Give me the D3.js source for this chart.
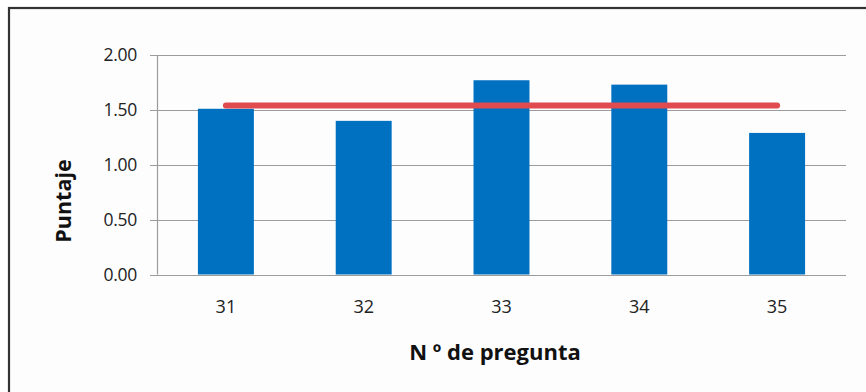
<!DOCTYPE html>
<html>
<head>
<meta charset="utf-8">
<script src="https://cdn.jsdelivr.net/npm/d3@7"></script>
<style>
  html, body { margin: 0; padding: 0; background: #ffffff; }
  svg { display: block; }
</style>
</head>
<body>
<svg id="chart" width="866" height="392"></svg>
<script>
// Question numbers and their scores
const questions = ["31", "32", "33", "34", "35"];
const scores = [1.51, 1.40, 1.77, 1.73, 1.29];
// Average score drawn as a horizontal reference line
const average = [1.54, 1.54, 1.54, 1.54, 1.54];
const yTicks = [0, 0.5, 1.0, 1.5, 2.0];

const svg = d3.select("#chart");
const margin = { left: 157 };

// Outer frame (only top and left edges fall inside the view)
svg.append("rect")
  .attr("x", 9).attr("y", 8)
  .attr("width", 900).attr("height", 420)
  .attr("fill", "#fdfdfd")
  .attr("stroke", "#333").attr("stroke-width", 2.2);

const x = d3.scaleBand()
  .domain(questions)
  .range([margin.left, 846])
  .paddingInner(0.594)
  .paddingOuter(0.297);

const y = d3.scaleLinear()
  .domain([0, 2])
  .range([274.5, 55]);

const font = "'Open Sans', 'Liberation Sans', sans-serif";

// Gridlines
svg.append("g")
  .selectAll("line")
  .data(yTicks)
  .join("line")
  .attr("x1", 150).attr("x2", 846)
  .attr("y1", d => Math.round(y(d)) + 0.5)
  .attr("y2", d => Math.round(y(d)) + 0.5)
  .attr("stroke", "#9c9c9c").attr("stroke-width", 1.2);

// Y axis line
svg.append("line")
  .attr("x1", margin.left + 0.5).attr("x2", margin.left + 0.5)
  .attr("y1", y(2)).attr("y2", y(0))
  .attr("stroke", "#9c9c9c").attr("stroke-width", 1.2);

// Y tick labels
svg.append("g")
  .selectAll("text")
  .data(yTicks)
  .join("text")
  .attr("x", 137)
  .attr("y", d => y(d))
  .attr("dy", "0.36em")
  .attr("text-anchor", "end")
  .attr("font-family", font)
  .attr("font-size", 17.5)
  .attr("letter-spacing", -0.3)
  .attr("fill", "#222")
  .text(d => d3.format(".2f")(d));

// Bars
svg.append("g")
  .selectAll("rect")
  .data(questions.map((q, i) => ({ q, v: scores[i] })))
  .join("rect")
  .attr("x", d => x(d.q))
  .attr("width", x.bandwidth())
  .attr("y", d => y(d.v))
  .attr("height", d => y(0) - y(d.v))
  .attr("fill", "#0070c0");

// Average line
const line = d3.line()
  .x((d, i) => x(questions[i]) + x.bandwidth() / 2)
  .y(d => y(d));
svg.append("path")
  .datum(average)
  .attr("d", line)
  .attr("fill", "none")
  .attr("stroke", "#e04b50")
  .attr("stroke-width", 6)
  .attr("stroke-linecap", "round");

// X tick labels
svg.append("g")
  .selectAll("text")
  .data(questions)
  .join("text")
  .attr("x", d => x(d) + x.bandwidth() / 2)
  .attr("y", 313)
  .attr("text-anchor", "middle")
  .attr("font-family", font)
  .attr("font-size", 18)
  .attr("fill", "#222")
  .text(d => d);

// Axis titles
svg.append("text")
  .attr("x", 495)
  .attr("y", 360)
  .attr("text-anchor", "middle")
  .attr("font-family", font)
  .attr("font-size", 22)
  .attr("font-weight", "bold")
  .attr("fill", "#111")
  .text("N º de pregunta");

svg.append("text")
  .attr("transform", "translate(71,201) rotate(-90)")
  .attr("text-anchor", "middle")
  .attr("font-family", font)
  .attr("font-size", 21.5)
  .attr("font-weight", "bold")
  .attr("fill", "#111")
  .text("Puntaje");
</script>
</body>
</html>
